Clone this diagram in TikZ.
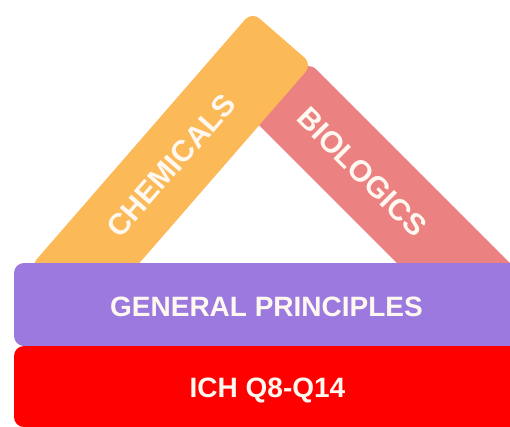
\documentclass[tikz,border=0pt]{standalone}
\usepackage{fontspec}
\setmainfont{Liberation Sans}
\usepackage{tikz}

\definecolor{chemyellow}{HTML}{FBB957}
\definecolor{biopink}{HTML}{EB8181}
\definecolor{genpurple}{HTML}{9B79DF}
\definecolor{ichred}{HTML}{FE0000}
\definecolor{labelwhite}{HTML}{FFF8F0}

\tikzset{
  band/.style={inner sep=0pt, minimum height=80pt, rounded corners=10pt},
  bar/.style={inner sep=0pt, minimum width=505pt, rounded corners=10pt},
  barlabel/.style={text=labelwhite, inner sep=0pt, font=\bfseries\fontsize{28}{34}\selectfont},
  bandlabel/.style={text=labelwhite, inner sep=0pt, font=\bfseries\fontsize{30}{36}\selectfont}
}

\begin{document}
\begin{tikzpicture}[x=1pt, y=-1pt]
  \useasboundingbox (0,0) rectangle (510,426);
  \clip (0,0) rectangle (510,426);
  \node[band, fill=biopink, rotate=-45, minimum width=339pt] (bioband) at (400.5,210.1) {};
  \node[band, fill=chemyellow, rotate=49, minimum width=338pt] (chemband) at (171.1,165.6) {};
  \node[bandlabel, rotate=49] (chem) at (chemband.center) {CHEMICALS};
  \node[bandlabel, rotate=-45] (bio) at (362,172) {BIOLOGICS};
  \node[bar, fill=genpurple, minimum height=83pt] (general) at (266.5,304.5) {};
  \node[bar, fill=ichred, minimum height=81pt] (ich) at (266.5,386.5) {};
  \node[barlabel] (generaltext) at (266.5,307) {GENERAL PRINCIPLES};
  \node[barlabel] (ichtext) at (267.5,390) {ICH Q8-Q14};
\end{tikzpicture}
\end{document}
